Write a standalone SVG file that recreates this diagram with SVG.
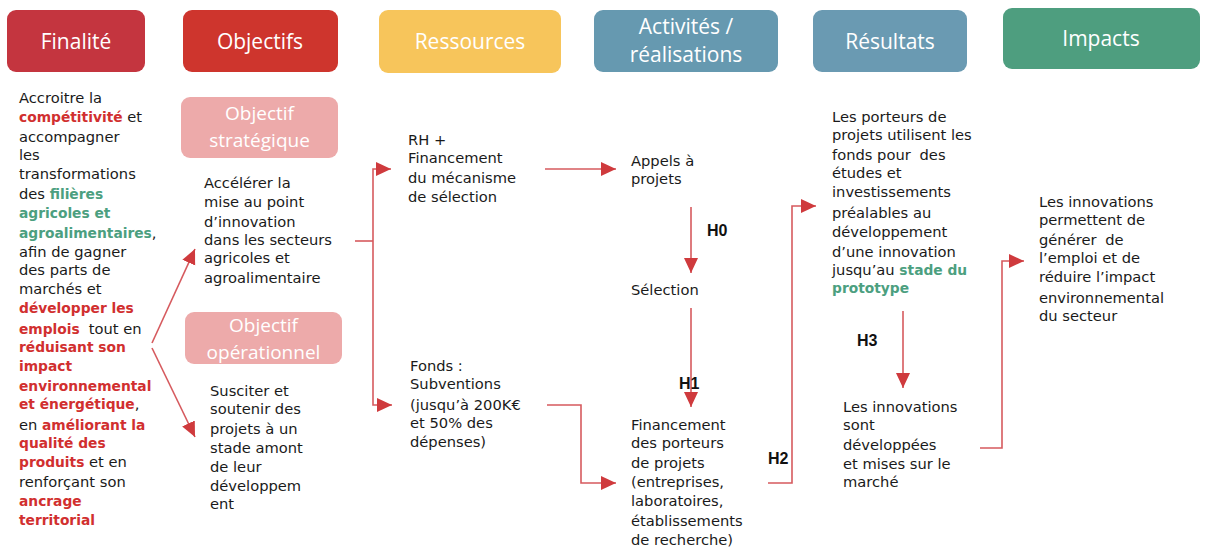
<svg xmlns="http://www.w3.org/2000/svg" width="1210" height="549" viewBox="0 0 1210 549">
  <style>
    .hdr { font-family: "Open Sans", "Liberation Sans", sans-serif; font-size: 21px; fill: #ffffff; text-anchor: middle; }
    .sub { font-family: "Open Sans", "Liberation Sans", sans-serif; font-size: 19px; fill: #ffffff; text-anchor: middle; }
    .t { font-family: "DejaVu Sans", "Liberation Sans", sans-serif; font-size: 14.7px; fill: #1a1a1a; }
    .r { font-weight: bold; font-size: 13.8px; fill: #d12f2f; }
    .g { font-weight: bold; font-size: 13.8px; fill: #4c9f80; }
    .hl { font-family: "Liberation Sans", Arial, sans-serif; font-size: 16px; font-weight: bold; fill: #111111; }
    .ln { fill: none; stroke: #d65a5e; stroke-width: 1.6; }
    .arr { marker-end: url(#head); }
  </style>
  <defs>
    <marker id="head" markerUnits="userSpaceOnUse" markerWidth="16" markerHeight="15" refX="15" refY="7" orient="auto">
      <path d="M0,0 L15,7 L0,14 z" fill="#cf3a3d"/>
    </marker>
  </defs>

  <rect width="1210" height="549" fill="#ffffff"/>

  <!-- column headers -->
  <g id="hdr-finalite">
    <rect x="7" y="10" width="138" height="62" rx="9" fill="#c4353f"/>
    <text class="hdr" x="76" y="49">Finalité</text>
  </g>
  <g id="hdr-objectifs">
    <rect x="183" y="10" width="155" height="62" rx="9" fill="#ce352d"/>
    <text class="hdr" x="260" y="49">Objectifs</text>
  </g>
  <g id="hdr-ressources">
    <rect x="379" y="10" width="182" height="63" rx="9" fill="#f7c55b"/>
    <text class="hdr" x="470" y="49">Ressources</text>
  </g>
  <g id="hdr-activites">
    <rect x="594" y="10" width="184" height="62" rx="9" fill="#6699b0"/>
    <text class="hdr" x="686" y="34">Activités /</text>
    <text class="hdr" x="686" y="62">réalisations</text>
  </g>
  <g id="hdr-resultats">
    <rect x="813" y="10" width="154" height="62" rx="9" fill="#6a9ab2"/>
    <text class="hdr" x="890" y="49">Résultats</text>
  </g>
  <g id="hdr-impacts">
    <rect x="1003" y="8" width="197" height="61" rx="9" fill="#4e9e7f"/>
    <text class="hdr" x="1101" y="46">Impacts</text>
  </g>

  <!-- finalité text -->
  <g id="finalite">
    <text class="t" x="19">
      <tspan x="19" y="103">Accroitre la</tspan>
      <tspan x="19" y="122"><tspan class="r">compétitivité</tspan> et</tspan>
      <tspan x="19" y="142">accompagner</tspan>
      <tspan x="19" y="160">les</tspan>
      <tspan x="19" y="179">transformations</tspan>
      <tspan x="19" y="199">des <tspan class="g">filières</tspan></tspan>
      <tspan x="19" y="218" class="g">agricoles et</tspan>
      <tspan x="19" y="238"><tspan class="g">agroalimentaires</tspan>,</tspan>
      <tspan x="19" y="257">afin de gagner</tspan>
      <tspan x="19" y="275">des parts de</tspan>
      <tspan x="19" y="294">marchés et</tspan>
      <tspan x="19" y="313" class="r">développer les</tspan>
      <tspan x="19" y="334"><tspan class="r">emplois</tspan><tspan dx="9">tout en</tspan></tspan>
      <tspan x="19" y="352" class="r">réduisant son</tspan>
      <tspan x="19" y="371" class="r">impact</tspan>
      <tspan x="19" y="391" class="r">environnemental</tspan>
      <tspan x="19" y="409"><tspan class="r">et énergétique</tspan>,</tspan>
      <tspan x="19" y="430">en <tspan class="r">améliorant la</tspan></tspan>
      <tspan x="19" y="448" class="r">qualité des</tspan>
      <tspan x="19" y="467"><tspan class="r">produits</tspan> et en</tspan>
      <tspan x="19" y="487">renforçant son</tspan>
      <tspan x="19" y="506" class="r">ancrage</tspan>
      <tspan x="19" y="525" class="r">territorial</tspan>
    </text>
  </g>

  <!-- objectifs -->
  <g id="obj-strategique">
    <rect x="181" y="97" width="157" height="61" rx="9" fill="#edaaaa"/>
    <text class="sub" x="259.5" y="120">Objectif</text>
    <text class="sub" x="259.5" y="147">stratégique</text>
    <text class="t">
      <tspan x="204" y="188">Accélérer la</tspan>
      <tspan x="204" y="207">mise au point</tspan>
      <tspan x="204" y="227">d’innovation</tspan>
      <tspan x="204" y="245">dans les secteurs</tspan>
      <tspan x="204" y="263">agricoles et</tspan>
      <tspan x="204" y="283">agroalimentaire</tspan>
    </text>
  </g>
  <g id="obj-operationnel">
    <rect x="185" y="312" width="157" height="52" rx="9" fill="#edaaaa"/>
    <text class="sub" x="263.5" y="332">Objectif</text>
    <text class="sub" x="263.5" y="359">opérationnel</text>
    <text class="t">
      <tspan x="210" y="396">Susciter et</tspan>
      <tspan x="210" y="414">soutenir des</tspan>
      <tspan x="210" y="434">projets à un</tspan>
      <tspan x="210" y="453">stade amont</tspan>
      <tspan x="210" y="472">de leur</tspan>
      <tspan x="210" y="491">développem</tspan>
      <tspan x="210" y="509">ent</tspan>
    </text>
  </g>

  <!-- ressources -->
  <g id="res-rh">
    <text class="t">
      <tspan x="408" y="145">RH +</tspan>
      <tspan x="408" y="163">Financement</tspan>
      <tspan x="408" y="183">du mécanisme</tspan>
      <tspan x="408" y="202">de sélection</tspan>
    </text>
  </g>
  <g id="res-fonds">
    <text class="t">
      <tspan x="410" y="371">Fonds :</tspan>
      <tspan x="410" y="389">Subventions</tspan>
      <tspan x="410" y="410">(jusqu’à 200K€</tspan>
      <tspan x="410" y="428">et 50% des</tspan>
      <tspan x="410" y="447">dépenses)</tspan>
    </text>
  </g>

  <!-- activités -->
  <g id="act-appels">
    <text class="t">
      <tspan x="631" y="166">Appels à</tspan>
      <tspan x="631" y="184">projets</tspan>
    </text>
  </g>
  <g id="act-selection">
    <text class="t" x="631" y="295">Sélection</text>
  </g>
  <g id="act-financement">
    <text class="t">
      <tspan x="631" y="430">Financement</tspan>
      <tspan x="631" y="448">des porteurs</tspan>
      <tspan x="631" y="468">de projets</tspan>
      <tspan x="631" y="487">(entreprises,</tspan>
      <tspan x="631" y="506">laboratoires,</tspan>
      <tspan x="631" y="526">établissements</tspan>
      <tspan x="631" y="545">de recherche)</tspan>
    </text>
  </g>

  <!-- résultats -->
  <g id="res-porteurs">
    <text class="t">
      <tspan x="832" y="122">Les porteurs de</tspan>
      <tspan x="832" y="140">projets utilisent les</tspan>
      <tspan x="832" y="160">fonds pour<tspan dx="9">des</tspan></tspan>
      <tspan x="832" y="178">études et</tspan>
      <tspan x="832" y="197">investissements</tspan>
      <tspan x="832" y="218">préalables au</tspan>
      <tspan x="832" y="237">développement</tspan>
      <tspan x="832" y="257">d’une innovation</tspan>
      <tspan x="832" y="275">jusqu’au <tspan class="g">stade du</tspan></tspan>
      <tspan x="832" y="293" class="g">prototype</tspan>
    </text>
  </g>
  <g id="res-innovations">
    <text class="t">
      <tspan x="843" y="412">Les innovations</tspan>
      <tspan x="843" y="430">sont</tspan>
      <tspan x="843" y="450">développées</tspan>
      <tspan x="843" y="469">et mises sur le</tspan>
      <tspan x="843" y="487">marché</tspan>
    </text>
  </g>

  <!-- impacts -->
  <g id="impacts">
    <text class="t">
      <tspan x="1039" y="207">Les innovations</tspan>
      <tspan x="1039" y="225">permettent de</tspan>
      <tspan x="1039" y="245">générer<tspan dx="9">de</tspan></tspan>
      <tspan x="1039" y="263">l’emploi et de</tspan>
      <tspan x="1039" y="282">réduire l’impact</tspan>
      <tspan x="1039" y="303">environnemental</tspan>
      <tspan x="1039" y="321">du secteur</tspan>
    </text>
  </g>

  <!-- connectors -->
  <g id="connectors">
    <line class="ln arr" x1="152" y1="343" x2="195" y2="249"/>
    <line class="ln arr" x1="152" y1="348" x2="195" y2="437"/>
    <path class="ln" d="M355,241 H373"/>
    <path class="ln arr" d="M373,241 V169 H391"/>
    <path class="ln arr" d="M373,241 V405 H392"/>
    <path class="ln arr" d="M545,169 H616"/>
    <path class="ln arr" d="M547,405 H581 V483 H616"/>
    <path class="ln arr" d="M691,207 V273"/>
    <path class="ln arr" d="M691,308 V407"/>
    <path class="ln arr" d="M768,483 H792 V206 H816"/>
    <path class="ln arr" d="M903,311 V388"/>
    <path class="ln arr" d="M980,448 H1002 V261 H1024"/>
  </g>

  <!-- hypothesis labels -->
  <g id="labels">
    <text class="hl" x="707" y="236">H0</text>
    <text class="hl" x="679" y="389">H1</text>
    <text class="hl" x="768" y="464">H2</text>
    <text class="hl" x="857" y="346">H3</text>
  </g>
</svg>
